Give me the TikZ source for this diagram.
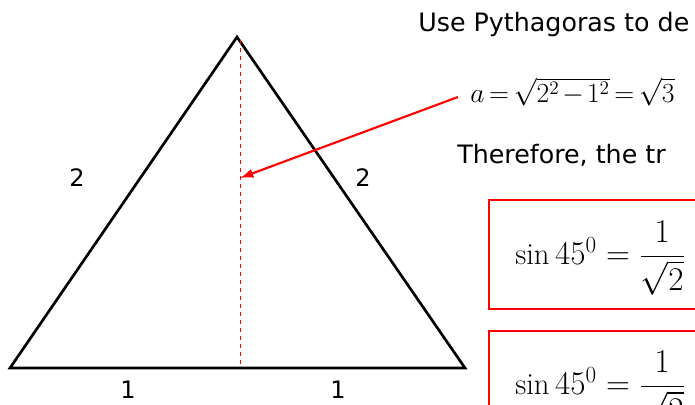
\documentclass[tikz,border=0pt]{standalone}
\usepackage{amsmath}
\usepackage{fontspec}
\setsansfont{DejaVu Sans}
\usetikzlibrary{arrows.meta,positioning}

\begin{document}
\begin{tikzpicture}[x=0.75pt,y=-0.75pt,
    side/.style={inner sep=0pt,font=\sffamily\fontsize{18}{22}\selectfont},
    note/.style={anchor=west,inner sep=0pt,font=\sffamily\fontsize{19}{22}\selectfont},
    eqn/.style={anchor=west,inner sep=0pt,font=\fontsize{23}{28}\selectfont},
    redbox/.style={draw=red,line width=2.2pt}]
    \useasboundingbox (0,0) rectangle (695,404);
    \clip (0,0) rectangle (695,404);
    % triangle with its height
    \coordinate (left) at (10,368);
    \coordinate (apex) at (237,37);
    \coordinate (right) at (465,368);
    \coordinate (top) at (240,40);
    \coordinate (foot) at (240,368);
    \coordinate (mid) at (240,178);
    \draw[line width=2pt] (left) -- (apex) -- (right) -- cycle;
    \draw[red,dashed,thin] (top) -- (foot);
    \node[side] (sideleft) at (77,178) {2};
    \node[side] (sideright) at (363,178) {2};
    \node[side] (baseleft) at (128,390) {1};
    \node[side] (baseright) at (338,390) {1};
    % working on the right
    \node[note] (use) at (418,25) {Use Pythagoras to de};
    \node[eqn] (aeq) at (470,92) {\fontsize{22.3}{26}\selectfont
      \medmuskip=2mu \thickmuskip=3mu $a=\sqrt{2^2-1^2}=\sqrt{3}$};
    \coordinate (tail) at (458,97);
    \draw[red,line width=1.6pt,-{Latex[length=10pt,width=7pt]}] (tail) -- (mid);
    \node[note] (therefore) at (457,155) {Therefore, the tr};
    \draw[redbox] (489,200) rectangle (760,309);
    \node[eqn] (sinone) at (515,258) {$\sin 45^0=\dfrac{1}{\sqrt{2}}$};
    \draw[redbox] (489,331) rectangle (760,440);
    \node[eqn] (sintwo) at (515,388) {$\sin 45^0=\dfrac{1}{\sqrt{2}}$};
\end{tikzpicture}
\end{document}
